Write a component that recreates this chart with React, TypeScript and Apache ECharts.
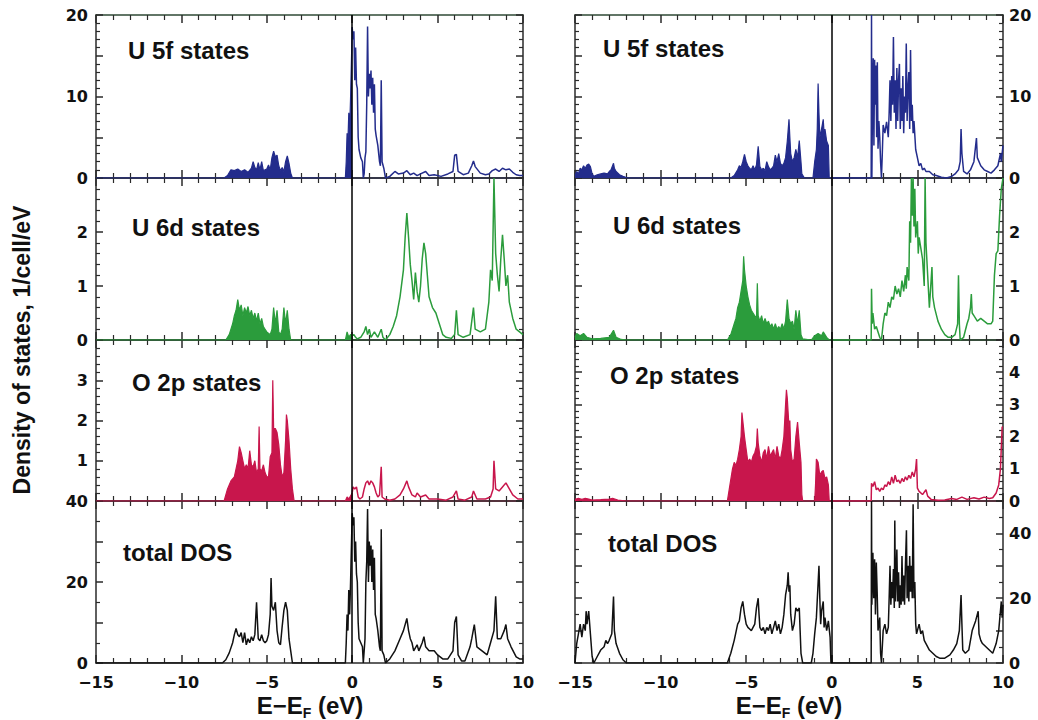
import React, { useEffect, useRef } from 'react';
import * as echarts from 'echarts';

// ---------- data: [E - E_F (eV), DOS] ----------
const leftU5fOcc = [[-15,0],[-7.5,0],[-7.3,0.3],[-7.1,1.0],[-6.9,0.9],[-6.7,1.1],[-6.5,0.8],[-6.3,1.0],[-6.1,0.7],[-5.9,1.2],[-5.8,2.0],[-5.7,1.3],[-5.6,1.0],[-5.5,1.9],[-5.4,1.0],[-5.3,2.0],[-5.2,0.9],[-5.0,1.1],[-4.9,1.6],[-4.8,1.0],[-4.7,2.5],[-4.6,3.3],[-4.5,2.6],[-4.4,2.8],[-4.3,1.5],[-4.2,0.9],[-4.1,1.3],[-4.0,0.8],[-3.9,2.0],[-3.8,2.7],[-3.7,1.8],[-3.6,0.6],[-3.5,0],[-0.4,0],[-0.35,2.0],[-0.3,5.5],[-0.25,4.5],[-0.2,8.0],[-0.15,6.0],[-0.1,9.5],[-0.05,14],[0,18.5]];
const leftU5fUnocc = [[0,18.5],[0.05,17],[0.1,18],[0.15,12],[0.2,16],[0.25,11.5],[0.3,11],[0.35,5],[0.4,3.5],[0.5,2.5],[0.6,2.0],[0.65,0],[0.7,0.5],[0.75,2.5],[0.8,3.2],[0.85,9],[0.9,18.6],[0.95,10],[1.0,12.8],[1.05,11],[1.1,13.2],[1.15,9],[1.2,12.3],[1.25,8],[1.3,11.5],[1.35,6],[1.4,5.2],[1.5,4.0],[1.6,2.0],[1.65,1.5],[1.7,12.0],[1.75,2.0],[1.85,1.2],[1.95,0],[2.2,0.2],[2.5,0.8],[2.7,0.5],[3.0,0.6],[3.2,0.9],[3.4,0.4],[3.6,0.6],[3.8,0.3],[4.0,0.5],[4.3,0.8],[4.5,0.3],[4.8,0.4],[5.2,0.2],[5.6,0.5],[5.9,0.8],[6.0,2.8],[6.1,2.9],[6.2,0.8],[6.5,0.4],[6.8,0.6],[7.0,1.5],[7.1,2.1],[7.2,1.4],[7.5,0.6],[7.8,0.4],[8.0,0.5],[8.2,0.9],[8.4,1.1],[8.6,0.8],[8.8,1.2],[9.0,1.0],[9.2,1.1],[9.4,0.7],[9.6,0.4],[9.8,0.3],[10,0.3]];

const leftU6dOcc = [[-15,0],[-7.4,0],[-7.2,0.1],[-7.0,0.3],[-6.9,0.45],[-6.8,0.55],[-6.7,0.75],[-6.6,0.55],[-6.5,0.65],[-6.4,0.45],[-6.3,0.6],[-6.2,0.5],[-6.1,0.62],[-6.0,0.45],[-5.9,0.55],[-5.8,0.4],[-5.7,0.5],[-5.6,0.35],[-5.5,0.5],[-5.4,0.3],[-5.3,0.4],[-5.2,0.25],[-5.1,0.2],[-5.0,0.15],[-4.8,0.1],[-4.7,0.2],[-4.6,0.6],[-4.5,0.3],[-4.4,0.55],[-4.3,0.15],[-4.2,0.1],[-4.1,0.2],[-4.0,0.6],[-3.9,0.3],[-3.8,0.55],[-3.7,0.2],[-3.6,0],[-0.4,0],[-0.3,0.15],[-0.2,0.05],[-0.1,0.1],[0,0.08]];
const leftU6dUnocc = [[0,0.08],[0.1,0.1],[0.2,0.05],[0.3,0.02],[0.5,0.05],[0.7,0.15],[0.8,0.25],[0.9,0.1],[1.0,0.2],[1.1,0.05],[1.3,0.15],[1.5,0.05],[1.7,0.2],[1.8,0.05],[1.95,0],[2.2,0.1],[2.4,0.25],[2.6,0.45],[2.8,0.8],[3.0,1.3],[3.1,1.9],[3.2,2.35],[3.3,1.9],[3.4,1.4],[3.5,1.1],[3.6,0.75],[3.7,1.25],[3.8,0.9],[3.9,0.7],[4.0,1.0],[4.1,1.5],[4.2,1.8],[4.3,1.6],[4.4,1.2],[4.5,0.8],[4.7,0.6],[4.9,0.5],[5.1,0.3],[5.3,0.1],[5.5,0.05],[5.8,0.03],[6.0,0.1],[6.1,0.55],[6.2,0.1],[6.5,0.05],[6.9,0.1],[7.1,0.6],[7.2,0.2],[7.5,0.15],[7.8,0.2],[8.0,0.7],[8.1,1.3],[8.2,1.1],[8.3,3.0],[8.4,1.6],[8.5,1.2],[8.6,0.9],[8.7,1.5],[8.8,1.95],[8.9,1.5],[9.0,1.0],[9.1,1.2],[9.2,0.7],[9.4,0.4],[9.6,0.2],[9.8,0.15],[10,0.1]];

const leftO2pOcc = [[-15,0],[-7.5,0],[-7.3,0.3],[-7.1,0.5],[-6.9,0.6],[-6.8,0.8],[-6.7,1.0],[-6.6,1.35],[-6.5,1.2],[-6.4,1.0],[-6.3,0.8],[-6.2,0.9],[-6.1,0.8],[-6.0,1.25],[-5.9,0.9],[-5.8,0.85],[-5.7,1.0],[-5.6,0.7],[-5.5,0.8],[-5.45,1.85],[-5.4,0.8],[-5.3,0.75],[-5.2,0.9],[-5.1,0.7],[-5.0,0.6],[-4.9,0.6],[-4.8,1.1],[-4.7,1.2],[-4.65,3.0],[-4.6,1.8],[-4.5,1.8],[-4.4,1.7],[-4.3,1.4],[-4.2,0.9],[-4.1,0.6],[-4.0,0.7],[-3.9,1.5],[-3.85,2.15],[-3.8,2.0],[-3.7,1.5],[-3.6,0.8],[-3.5,0.3],[-3.4,0],[-0.4,0],[-0.3,0.1],[-0.2,0.05],[0,0.2]];
const leftO2pUnocc = [[0,0.2],[0.05,0.35],[0.15,0.3],[0.25,0.35],[0.35,0.1],[0.45,0.05],[0.6,0.1],[0.7,0.3],[0.8,0.45],[0.9,0.5],[1.0,0.4],[1.1,0.5],[1.2,0.45],[1.3,0.35],[1.4,0.2],[1.5,0.1],[1.6,0.15],[1.7,0.85],[1.75,0.1],[1.9,0.05],[2.2,0.02],[2.5,0.05],[2.8,0.15],[3.0,0.3],[3.2,0.5],[3.3,0.35],[3.5,0.15],[3.7,0.1],[3.8,0.2],[4.0,0.1],[4.3,0.15],[4.5,0.05],[5.0,0.05],[5.5,0.02],[5.9,0.1],[6.1,0.25],[6.2,0.05],[6.6,0.02],[7.0,0.1],[7.1,0.25],[7.3,0.05],[7.8,0.05],[8.1,0.1],[8.25,0.3],[8.3,1.0],[8.4,0.3],[8.6,0.25],[8.8,0.35],[9.0,0.45],[9.2,0.3],[9.4,0.15],[9.7,0.05],[10,0.05]];

const leftTotal = [[-15,0],[-7.6,0],[-7.4,0.8],[-7.2,2.5],[-7.0,5],[-6.9,7],[-6.8,8.5],[-6.7,7],[-6.6,6.5],[-6.5,7.5],[-6.4,5],[-6.3,7.5],[-6.2,4.5],[-6.1,6],[-6.0,5],[-5.9,6.5],[-5.8,5.5],[-5.7,7],[-5.6,15],[-5.5,6],[-5.4,5.5],[-5.3,7],[-5.2,5.5],[-5.1,5],[-5.0,5.5],[-4.9,7],[-4.8,12],[-4.75,21],[-4.7,14],[-4.6,13],[-4.5,15],[-4.4,8],[-4.3,5],[-4.2,4.5],[-4.1,9],[-4.0,13],[-3.9,15],[-3.8,13],[-3.7,6],[-3.6,3],[-3.5,0],[-0.4,0],[-0.35,5],[-0.3,12],[-0.25,8],[-0.2,18],[-0.15,12],[-0.1,19],[-0.05,28],[0,37],[0.05,34],[0.1,36],[0.15,25],[0.2,30],[0.25,22],[0.3,20],[0.35,10],[0.4,6],[0.5,5],[0.6,4],[0.65,0],[0.7,3],[0.75,6],[0.8,20],[0.85,25],[0.9,38],[0.95,20],[1.0,30],[1.05,24],[1.1,29],[1.15,20],[1.2,28],[1.25,18],[1.3,26],[1.35,12],[1.4,11],[1.5,8],[1.6,4],[1.65,3],[1.7,33],[1.75,3],[1.85,2],[1.95,0],[2.2,1],[2.5,3],[2.8,6],[3.0,8],[3.2,11],[3.3,8],[3.4,6],[3.5,5],[3.6,3],[3.8,4.5],[3.9,3],[4.1,5],[4.2,6.5],[4.3,4],[4.5,3],[4.8,3],[5.0,2],[5.3,1],[5.6,1],[5.9,3],[6.0,10],[6.1,11.5],[6.2,2],[6.4,0.5],[6.6,0.5],[6.9,4],[7.0,6],[7.15,9.5],[7.3,4],[7.6,3],[7.9,2],[8.1,5],[8.3,8],[8.4,16.5],[8.5,6],[8.7,6],[8.9,8],[9.0,9.5],[9.1,6],[9.3,4],[9.6,1.5],[9.8,1],[10,1]];

const rightU5fOcc = [[-15,0.3],[-14.9,0.8],[-14.8,0.5],[-14.7,1.2],[-14.6,1.0],[-14.5,1.5],[-14.4,1.2],[-14.3,1.6],[-14.2,1.7],[-14.1,1.4],[-14.0,0.5],[-13.9,0.2],[-13.7,0.4],[-13.5,0.5],[-13.3,0.6],[-13.1,0.5],[-13.0,0.8],[-12.9,1.0],[-12.75,1.8],[-12.7,1.2],[-12.6,0.8],[-12.4,0.4],[-12.2,0.2],[-12.0,0.05],[-11.9,0],[-5.9,0],[-5.7,0.3],[-5.5,1.0],[-5.4,1.5],[-5.3,1.3],[-5.2,2.0],[-5.1,2.9],[-5.0,2.0],[-4.9,1.5],[-4.8,1.2],[-4.7,1.0],[-4.6,1.5],[-4.5,1.0],[-4.4,1.6],[-4.3,3.9],[-4.2,1.4],[-4.1,1.0],[-4.0,1.2],[-3.9,0.9],[-3.8,2.0],[-3.7,1.4],[-3.6,1.0],[-3.5,1.2],[-3.4,1.5],[-3.3,2.8],[-3.2,2.0],[-3.1,3.0],[-3.0,1.8],[-2.9,1.5],[-2.8,1.8],[-2.7,2.5],[-2.6,4.5],[-2.5,7.2],[-2.45,5.0],[-2.4,3.0],[-2.3,2.0],[-2.2,2.5],[-2.1,3.5],[-2.0,2.5],[-1.9,4.6],[-1.8,2.0],[-1.75,0.5],[-1.6,0],[-1.1,0],[-1.0,2.0],[-0.9,3.5],[-0.85,6],[-0.8,11.6],[-0.75,8],[-0.7,5],[-0.6,6],[-0.5,7.2],[-0.45,5.5],[-0.4,6],[-0.3,4.5],[-0.2,4],[-0.15,0],[0,0]];
const rightU5fUnocc = [[0,0],[2.3,0],[2.32,20],[2.34,0],[2.38,10],[2.42,14.7],[2.46,4],[2.5,14.5],[2.54,9],[2.58,13.8],[2.62,5],[2.66,14.2],[2.7,3.6],[2.75,7],[2.8,5],[2.85,2],[2.9,0],[2.95,3],[3.0,6.5],[3.1,5.5],[3.2,6.9],[3.3,5],[3.35,8],[3.4,12],[3.45,7],[3.5,12.5],[3.55,9],[3.6,17.3],[3.65,8],[3.7,12],[3.75,6],[3.8,13.5],[3.85,7],[3.9,12],[3.95,14],[4.0,6],[4.05,11],[4.1,7],[4.15,12.5],[4.2,5.5],[4.25,10],[4.3,8],[4.35,16.5],[4.4,7],[4.45,11],[4.5,13],[4.55,6],[4.6,15.7],[4.65,7],[4.7,9],[4.75,5.5],[4.8,7],[4.9,3.5],[5.0,2.5],[5.1,1.5],[5.2,1.8],[5.3,1.0],[5.4,1.2],[5.5,0.8],[5.7,0.8],[5.9,0.4],[6.1,0.3],[6.4,0.1],[6.7,0],[7.0,0.2],[7.2,0.5],[7.4,1.0],[7.5,2.0],[7.55,6.0],[7.6,3.0],[7.7,0.8],[7.9,0.5],[8.1,1.0],[8.3,2.0],[8.45,4.9],[8.5,2.5],[8.7,1.5],[8.9,1.0],[9.1,0.8],[9.3,0.6],[9.5,1.0],[9.7,1.5],[9.85,3.0],[9.9,2.0],[10,4.0]];

const rightU6dOcc = [[-15,0.05],[-14.9,0.12],[-14.7,0.08],[-14.5,0.12],[-14.3,0.05],[-14.0,0.02],[-13.5,0.03],[-13.0,0.05],[-12.75,0.18],[-12.6,0.05],[-12.3,0.01],[-12,0],[-6.1,0],[-5.9,0.1],[-5.7,0.3],[-5.6,0.4],[-5.5,0.6],[-5.4,0.7],[-5.3,0.9],[-5.2,1.1],[-5.15,1.55],[-5.1,1.3],[-5.0,1.0],[-4.9,0.8],[-4.8,0.65],[-4.7,0.55],[-4.6,0.5],[-4.5,0.45],[-4.4,0.4],[-4.35,1.05],[-4.3,0.45],[-4.2,0.35],[-4.1,0.45],[-4.0,0.3],[-3.9,0.4],[-3.8,0.3],[-3.7,0.35],[-3.6,0.25],[-3.5,0.3],[-3.4,0.2],[-3.3,0.3],[-3.2,0.2],[-3.1,0.25],[-3.0,0.2],[-2.9,0.3],[-2.8,0.2],[-2.7,0.35],[-2.6,0.75],[-2.5,0.4],[-2.4,0.3],[-2.3,0.35],[-2.2,0.2],[-2.1,0.55],[-2.0,0.3],[-1.9,0.55],[-1.8,0.1],[-1.7,0.02],[-1.2,0],[-1.0,0.08],[-0.8,0.12],[-0.6,0.08],[-0.5,0.15],[-0.4,0.1],[-0.3,0.05],[-0.15,0],[0,0]];
const rightU6dUnocc = [[0,0],[2.3,0],[2.32,0.95],[2.36,0.3],[2.4,0.5],[2.5,0.2],[2.6,0.25],[2.7,0.15],[2.8,0.05],[2.9,0],[3.0,0.3],[3.1,0.5],[3.2,0.45],[3.3,0.7],[3.4,0.6],[3.5,0.8],[3.6,0.75],[3.7,1.0],[3.8,0.85],[3.9,0.95],[4.0,0.8],[4.1,1.1],[4.2,0.9],[4.3,1.2],[4.35,0.95],[4.4,1.35],[4.5,1.1],[4.55,2.2],[4.6,1.8],[4.65,3.0],[4.7,2.3],[4.75,3.0],[4.8,2.1],[4.85,2.8],[4.9,1.9],[5.0,2.2],[5.05,1.6],[5.1,1.9],[5.2,1.7],[5.3,1.5],[5.4,1.0],[5.45,3.0],[5.5,1.8],[5.6,1.2],[5.7,0.6],[5.85,1.35],[5.9,0.8],[6.0,0.6],[6.2,0.35],[6.4,0.2],[6.6,0.1],[6.8,0.05],[7.0,0.05],[7.2,0.1],[7.35,0.3],[7.4,1.2],[7.45,0.3],[7.5,0],[7.7,0.05],[7.9,0.3],[8.0,0.4],[8.1,0.6],[8.15,0.85],[8.2,0.5],[8.3,0.45],[8.5,0.35],[8.7,0.4],[8.9,0.35],[9.1,0.3],[9.3,0.3],[9.4,0.35],[9.5,1.2],[9.6,1.6],[9.7,1.65],[9.8,2.3],[9.9,2.8],[10,3.0]];

const rightO2pOcc = [[-15,0.05],[-14.8,0.08],[-14.6,0.05],[-14.4,0.08],[-14.2,0.06],[-14.0,0.03],[-13.5,0.04],[-13.0,0.06],[-12.8,0.08],[-12.5,0.03],[-12,0],[-6.1,0],[-5.95,0.5],[-5.8,1.0],[-5.7,1.2],[-5.6,1.1],[-5.5,1.3],[-5.4,1.6],[-5.3,2.0],[-5.25,2.75],[-5.2,2.5],[-5.1,2.0],[-5.0,1.6],[-4.9,1.2],[-4.8,1.3],[-4.7,1.2],[-4.6,1.4],[-4.5,1.5],[-4.4,1.7],[-4.35,2.25],[-4.3,1.8],[-4.2,1.4],[-4.1,1.2],[-4.0,1.5],[-3.9,1.6],[-3.8,1.3],[-3.7,1.7],[-3.6,1.4],[-3.5,1.5],[-3.4,1.6],[-3.3,1.3],[-3.2,1.7],[-3.1,1.4],[-3.0,1.3],[-2.9,1.6],[-2.8,2.0],[-2.7,3.0],[-2.65,3.45],[-2.6,3.2],[-2.5,2.3],[-2.45,2.5],[-2.4,1.6],[-2.3,1.2],[-2.2,1.3],[-2.1,2.0],[-2.0,2.45],[-1.9,1.8],[-1.8,1.2],[-1.75,0.2],[-1.7,0],[-1.0,0],[-0.95,0.5],[-0.9,1.3],[-0.8,1.2],[-0.7,0.8],[-0.6,0.9],[-0.5,0.95],[-0.4,0.7],[-0.3,0.75],[-0.2,0.5],[-0.15,0],[0,0]];
const rightO2pUnocc = [[0,0],[2.3,0],[2.32,0.55],[2.4,0.45],[2.5,0.6],[2.6,0.35],[2.7,0.4],[2.8,0.3],[2.9,0.4],[3.0,0.35],[3.1,0.5],[3.2,0.45],[3.3,0.6],[3.4,0.5],[3.5,0.75],[3.6,0.55],[3.7,0.8],[3.8,0.6],[3.9,0.65],[4.0,0.55],[4.1,0.7],[4.2,0.6],[4.3,0.75],[4.4,0.65],[4.5,0.8],[4.6,0.7],[4.7,0.9],[4.8,0.75],[4.9,1.0],[4.95,1.3],[5.0,0.4],[5.1,0.3],[5.3,0.2],[5.5,0.35],[5.6,0.15],[5.8,0.05],[6.2,0.02],[6.6,0.03],[7.0,0.08],[7.3,0.05],[7.6,0.12],[7.9,0.05],[8.3,0.1],[8.6,0.06],[8.9,0.12],[9.2,0.08],[9.4,0.1],[9.6,0.25],[9.75,0.5],[9.85,1.0],[9.95,2.3],[10,2.3]];

const rightTotal = [[-15,0],[-14.9,6],[-14.8,9],[-14.7,12],[-14.6,8],[-14.5,12],[-14.4,10],[-14.35,16],[-14.3,12],[-14.2,16],[-14.1,9],[-14.0,2],[-13.9,0],[-13.7,2],[-13.5,4],[-13.3,5],[-13.2,7],[-13.1,6],[-13.0,7],[-12.85,9],[-12.75,20.5],[-12.7,10],[-12.6,6],[-12.4,3],[-12.2,1],[-12.0,0],[-6.1,0],[-5.9,3],[-5.7,7],[-5.5,12],[-5.4,13],[-5.3,17],[-5.2,19],[-5.1,15],[-5.0,12],[-4.9,11],[-4.8,10.5],[-4.7,10],[-4.6,11],[-4.5,12],[-4.4,17],[-4.3,20],[-4.25,15],[-4.2,11],[-4.1,10],[-4.0,11],[-3.9,9],[-3.8,11],[-3.7,10],[-3.6,12],[-3.5,9],[-3.4,11],[-3.3,13],[-3.2,10],[-3.1,12],[-3.0,9],[-2.9,11],[-2.8,15],[-2.7,21],[-2.6,24],[-2.55,28],[-2.5,22],[-2.45,24],[-2.4,15],[-2.3,10],[-2.2,12],[-2.1,17],[-2.0,16],[-1.9,17],[-1.85,10],[-1.8,3],[-1.7,0],[-1.2,0],[-1.1,3],[-1.0,9],[-0.9,14],[-0.75,30],[-0.7,20],[-0.65,12],[-0.6,16],[-0.5,19],[-0.45,11],[-0.4,14],[-0.3,10],[-0.2,13],[-0.1,8],[-0.05,0],[2.3,0],[2.32,50],[2.34,18],[2.4,34],[2.45,20],[2.5,32],[2.55,15],[2.6,31],[2.65,22],[2.7,10],[2.8,14],[2.85,3],[2.9,0],[3.0,10],[3.1,12],[3.2,9],[3.3,11],[3.35,20],[3.4,30],[3.45,18],[3.5,25],[3.55,20],[3.6,29],[3.65,17],[3.68,44],[3.72,19],[3.8,35],[3.85,19],[3.9,28],[3.95,17],[4.0,24],[4.05,18],[4.1,33],[4.15,19],[4.2,27],[4.25,18],[4.3,30],[4.36,41],[4.4,20],[4.45,30],[4.5,19],[4.55,33],[4.6,22],[4.65,30],[4.7,20],[4.75,49],[4.8,20],[4.85,25],[4.9,12],[4.95,9],[5.0,10],[5.1,12],[5.2,9],[5.3,10],[5.4,7],[5.5,6],[5.7,4],[5.9,3],[6.1,2],[6.3,1.5],[6.6,1.5],[6.9,2.5],[7.1,4],[7.3,6],[7.45,10],[7.55,21],[7.6,12],[7.65,4],[7.8,3],[8.0,4],[8.2,10],[8.4,13],[8.55,16],[8.6,9],[8.7,7],[8.8,6],[9.0,5],[9.2,4],[9.4,3],[9.6,6],[9.75,10],[9.9,19],[9.95,14],[10,18]];

const panelTitles = ['U 5f states', 'U 6d states', 'O 2p states', 'total DOS'];
const leftYMax = [20, 3, 4, 40];
const rightYMax = [20, 3, 5, 50];
const yIntervals = [5, 1, 1, 10];
const leftYLabels = [[0, 10, 20], [0, 1, 2], [1, 2, 3], [0, 20, 40]];
const rightYLabels = [[0, 10, 20], [0, 1, 2], [0, 1, 2, 3, 4], [0, 20, 40]];
const xTickLabels = [-15, -10, -5, 0, 5, 10];

const BLUE = '#232c8c';
const GREEN = '#2b9c3c';
const RED = '#c8164c';
const BLACK = '#111111';
const panelColors = [BLUE, GREEN, RED, BLACK];

const leftOcc = [leftU5fOcc, leftU6dOcc, leftO2pOcc, null];
const leftUnocc = [leftU5fUnocc, leftU6dUnocc, leftO2pUnocc, leftTotal];
const rightOcc = [rightU5fOcc, rightU6dOcc, rightO2pOcc, null];
const rightUnocc = [rightU5fUnocc, rightU6dUnocc, rightO2pUnocc, rightTotal];

// ---------- layout ----------
const COLS = [{ left: 96, width: 427 }, { left: 575, width: 428 }];
const ROWS = [{ top: 15, height: 163 }, { top: 178, height: 162 }, { top: 340, height: 161 }, { top: 501, height: 162 }];
const TITLE_POS = [
  [[128, 50], [132, 227], [132, 382], [123, 552]],
  [[603, 48], [613, 225], [610, 375], [608, 543]],
];

const TICK_FONT = 'DejaVu Sans';
const fmtNum = (v: number) => (v < 0 ? '\u2212' + Math.abs(v) : String(v));

function buildOption() {
  const grid: any[] = [];
  const xAxis: any[] = [];
  const yAxis: any[] = [];
  const series: any[] = [];
  const graphic: any[] = [];
  let g = 0;
  for (let c = 0; c < 2; c++) {
    for (let r = 0; r < 4; r++) {
      grid.push({ left: COLS[c].left, width: COLS[c].width, top: ROWS[r].top, height: ROWS[r].height, containLabel: false });
      const color = panelColors[r];
      const frame = '#2a2a2a';
      const bottomColor = r < 3 ? color : frame;
      const topColor = r === 0 ? '#2f4a36' : frame;
      const xBase = (pos: string, lineColor: string, showLabel: boolean) => ({
        type: 'value', gridIndex: g, min: -15, max: 10, interval: 5, position: pos,
        axisLine: { show: true, onZero: false, lineStyle: { color: lineColor, width: 1.5 } },
        axisTick: { show: true, inside: true, length: 8, lineStyle: { color: frame, width: 1.5 } },
        minorTick: { show: true, splitNumber: 5, length: 5, lineStyle: { color: frame, width: 1.2 } },
        splitLine: { show: false }, minorSplitLine: { show: false },
        axisLabel: {
          show: showLabel, margin: 11, color: BLACK, fontFamily: TICK_FONT, fontWeight: 'bold', fontSize: 16,
          formatter: (v: number) => (xTickLabels.includes(v) ? fmtNum(v) : ''),
        },
      });
      xAxis.push(xBase('bottom', bottomColor, r === 3));
      xAxis.push(xBase('top', topColor, false));
      const ymax = c === 0 ? leftYMax[r] : rightYMax[r];
      const labs = c === 0 ? leftYLabels[r] : rightYLabels[r];
      const yBase = (pos: string, showLabel: boolean) => ({
        type: 'value', gridIndex: g, min: 0, max: ymax, interval: yIntervals[r], position: pos,
        axisLine: { show: true, onZero: false, lineStyle: { color: frame, width: 1.5 } },
        axisTick: { show: true, inside: true, length: 7, lineStyle: { color: frame, width: 1.5 } },
        minorTick: { show: true, splitNumber: r === 3 ? 2 : 5, length: 4, lineStyle: { color: frame, width: 1.2 } },
        splitLine: { show: false }, minorSplitLine: { show: false },
        axisLabel: {
          show: showLabel, margin: pos === 'left' ? 8 : 6, color: BLACK, fontFamily: TICK_FONT, fontWeight: 'bold', fontSize: 16,
          formatter: (v: number) => (labs.includes(v) ? String(v) : ''),
        },
      });
      yAxis.push(yBase('left', c === 0));
      yAxis.push(yBase('right', c === 1));
      const occ = c === 0 ? leftOcc[r] : rightOcc[r];
      const unocc = c === 0 ? leftUnocc[r] : rightUnocc[r];
      const markLine = {
        silent: true, symbol: ['none', 'none'], label: { show: false },
        lineStyle: { color: '#000', width: 1.5, type: 'solid' },
        data: [{ xAxis: 0 }],
      };
      if (occ) {
        series.push({
          type: 'line', xAxisIndex: 2 * g, yAxisIndex: 2 * g, data: occ, showSymbol: false, symbol: 'none',
          lineStyle: { color, width: 1.2 }, itemStyle: { color }, areaStyle: { color, opacity: 1 }, z: 3,
        });
      }
      series.push({
        type: 'line', xAxisIndex: 2 * g, yAxisIndex: 2 * g, data: unocc, showSymbol: false, symbol: 'none',
        lineStyle: { color, width: 1.5 }, itemStyle: { color }, z: 3, markLine,
      });
      const [tx, ty] = TITLE_POS[c][r];
      graphic.push({
        type: 'text', x: tx, y: ty, z: 10,
        style: { text: panelTitles[r], font: 'bold 24px "Liberation Sans", Arial, sans-serif', fill: BLACK, verticalAlign: 'middle', align: 'left' },
      });
      g++;
    }
  }
  const xNameRich = {
    a: { fontSize: 24, fontWeight: 'bold', fontFamily: 'Liberation Sans', fill: BLACK, lineHeight: 30 },
    b: { fontSize: 14, fontWeight: 'bold', fontFamily: 'Liberation Sans', fill: BLACK, lineHeight: 30, verticalAlign: 'bottom', padding: [12, 0, 0, 0] },
  };
  [310, 789].forEach((cx) => {
    graphic.push({
      type: 'text', x: cx, y: 705, z: 10,
      style: { text: '{a|E\u2212E}{b|F}{a| (eV)}', rich: xNameRich, align: 'center', verticalAlign: 'middle' },
    });
  });
  graphic.push({
    type: 'text', x: 22, y: 350, rotation: Math.PI / 2, z: 10,
    style: { text: 'Density of states, 1/cell/eV', font: 'bold 23px "Liberation Sans", Arial, sans-serif', fill: BLACK, align: 'center', verticalAlign: 'middle' },
  });
  return { animation: false, backgroundColor: '#ffffff', grid, xAxis, yAxis, series, graphic };
}

export default function App() {
  const ref = useRef<HTMLDivElement>(null);
  useEffect(() => {
    if (!ref.current) return;
    const chart = echarts.init(ref.current, undefined, { renderer: 'svg' });
    chart.setOption(buildOption() as any);
    return () => chart.dispose();
  }, []);
  return <div ref={ref} style={{ position: 'absolute', left: 0, top: 0, width: 1038, height: 720 }} />;
}
